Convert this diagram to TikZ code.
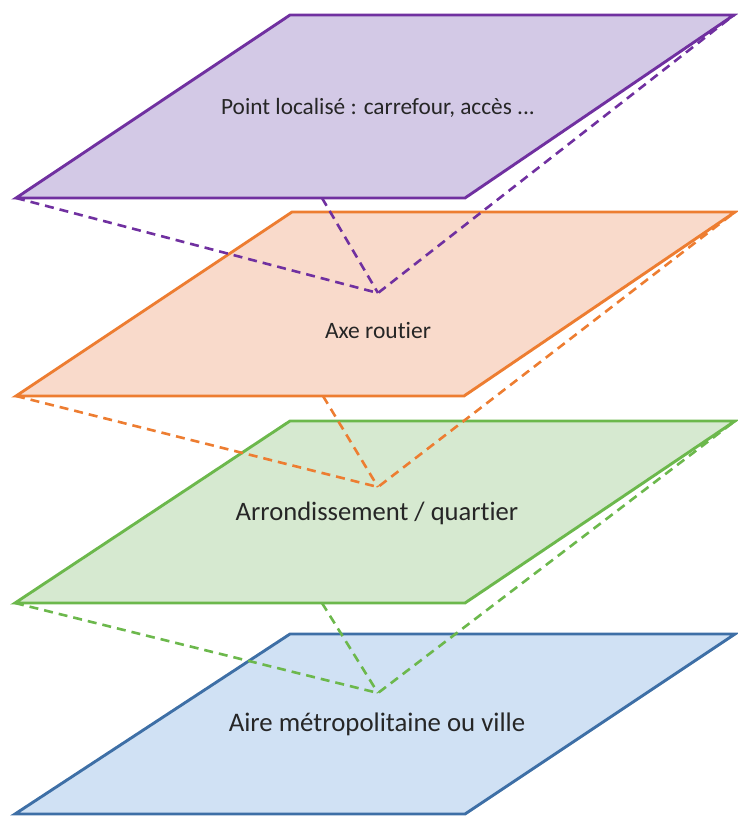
\documentclass[tikz,border=0pt]{standalone}
\usepackage{fontspec}
\setmainfont{Carlito}[Ligatures=NoCommon]
\definecolor{pstroke}{HTML}{7030A0}
\definecolor{pfill}{HTML}{D3C9E6}
\definecolor{ostroke}{HTML}{ED7D31}
\definecolor{ofill}{HTML}{F9DACB}
\definecolor{gstroke}{HTML}{6CB84C}
\definecolor{gfill}{HTML}{D6E9D0}
\definecolor{bstroke}{HTML}{3E6FA6}
\definecolor{bfill}{HTML}{D0E1F4}
\definecolor{txt}{HTML}{262626}
\tikzset{
  plane/.style={line width=2.9pt, line join=miter},
  dashline/.style={line width=2.6pt, dash pattern=on 9pt off 6pt},
  label/.style={text=txt, inner sep=0pt}
}
\begin{document}
\begin{tikzpicture}[x=1pt,y=-1pt]
\useasboundingbox (0,0) rectangle (738,816);
% blue plane
\coordinate (b1) at (290,634); \coordinate (b2) at (735,634);
\coordinate (b3) at (465,814); \coordinate (b4) at (15,814);
\filldraw[plane, draw=bstroke, fill=bfill] (b1) -- (b2) -- (b3) -- (b4) -- cycle;
\node[label, font=\fontsize{26.8}{30}\selectfont] (tb) at (377,724) {Aire métropolitaine ou ville};
% green dashes
\coordinate (g1) at (290,421); \coordinate (g2) at (735,421);
\coordinate (g3) at (465,603); \coordinate (g4) at (15,603);
\coordinate (gm) at (322,603); \coordinate (ga) at (378,693);
\draw[dashline, gstroke] (g4) -- (ga) -- (g2);
\draw[dashline, gstroke] (gm) -- (ga);
\filldraw[plane, draw=gstroke, fill=gfill] (g1) -- (g2) -- (g3) -- (g4) -- cycle;
\node[label, font=\fontsize{26.6}{30}\selectfont] (tg) at (377,513) {Arrondissement / quartier};
% orange
\coordinate (o1) at (292,212); \coordinate (o2) at (735,212);
\coordinate (o3) at (464,396); \coordinate (o4) at (16,396);
\coordinate (om) at (323,396); \coordinate (oa) at (378,487);
\draw[dashline, ostroke] (o4) -- (oa) -- (o2);
\draw[dashline, ostroke] (om) -- (oa);
\filldraw[plane, draw=ostroke, fill=ofill] (o1) -- (o2) -- (o3) -- (o4) -- cycle;
\node[label, font=\fontsize{23.5}{27}\selectfont] (to) at (378,330) {Axe routier};
% purple
\coordinate (p1) at (290,15); \coordinate (p2) at (734,15);
\coordinate (p3) at (465,198); \coordinate (p4) at (16,198);
\coordinate (pm) at (322,198); \coordinate (pa) at (378,293);
\draw[dashline, pstroke] (p4) -- (pa) -- (p2);
\draw[dashline, pstroke] (pm) -- (pa);
\filldraw[plane, draw=pstroke, fill=pfill] (p1) -- (p2) -- (p3) -- (p4) -- cycle;
\node[label, font=\fontsize{23.3}{27}\selectfont] (tp) at (378,108) {Point localisé : carrefour, accès ...};
\end{tikzpicture}
\end{document}
